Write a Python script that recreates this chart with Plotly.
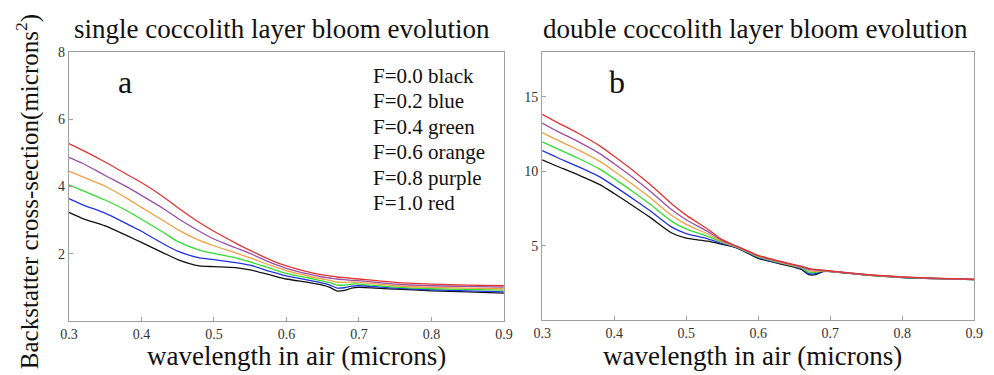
import plotly.graph_objects as go

# ---- data ----
wl_a = [0.30, 0.32, 0.35, 0.38, 0.40, 0.43, 0.45, 0.48, 0.50, 0.53, 0.55, 0.58,
        0.60, 0.63, 0.65, 0.66, 0.67, 0.68, 0.69, 0.70, 0.75, 0.80, 0.85, 0.90]
a_black = [3.23, 3.04, 2.83, 2.54, 2.34, 2.03, 1.83, 1.64, 1.62, 1.59, 1.52, 1.36,
           1.25, 1.15, 1.07, 1.00, 0.89, 0.91, 0.98, 1.00, 0.95, 0.90, 0.87, 0.83]
a_blue = [3.64, 3.45, 3.21, 2.89, 2.67, 2.30, 2.08, 1.88, 1.83, 1.74, 1.66, 1.46,
          1.34, 1.22, 1.13, 1.07, 0.98, 0.99, 1.04, 1.05, 0.98, 0.93, 0.90, 0.87]
a_green = [4.05, 3.87, 3.60, 3.28, 3.03, 2.64, 2.37, 2.11, 2.01, 1.88, 1.76, 1.55,
           1.42, 1.28, 1.19, 1.14, 1.07, 1.07, 1.10, 1.10, 1.01, 0.96, 0.94, 0.92]
a_orange = [4.46, 4.28, 4.01, 3.65, 3.38, 2.99, 2.72, 2.40, 2.24, 2.03, 1.88, 1.64,
            1.50, 1.34, 1.25, 1.21, 1.16, 1.15, 1.16, 1.15, 1.05, 1.00, 0.98, 0.96]
a_purple = [4.87, 4.68, 4.33, 3.99, 3.74, 3.35, 3.06, 2.67, 2.44, 2.18, 2.01, 1.72,
            1.57, 1.40, 1.31, 1.28, 1.25, 1.23, 1.21, 1.20, 1.10, 1.05, 1.03, 1.01]
a_red = [5.28, 5.07, 4.73, 4.36, 4.12, 3.70, 3.38, 2.93, 2.67, 2.32, 2.10, 1.80,
         1.64, 1.46, 1.37, 1.34, 1.31, 1.29, 1.27, 1.25, 1.15, 1.10, 1.07, 1.05]

wl_b = [0.30, 0.32, 0.35, 0.38, 0.40, 0.43, 0.45, 0.48, 0.50, 0.53, 0.55, 0.57,
        0.60, 0.63, 0.65, 0.66, 0.67, 0.68, 0.69, 0.70, 0.75, 0.80, 0.85, 0.90]
b_black = [10.76, 10.35, 9.75, 9.10, 8.50, 7.55, 6.90, 5.85, 5.50, 5.30, 5.08, 4.85,
           4.15, 3.78, 3.55, 3.40, 3.05, 3.05, 3.25, 3.26, 3.02, 2.86, 2.78, 2.72]
b_blue = [11.38, 10.94, 10.31, 9.62, 9.00, 8.02, 7.34, 6.24, 5.81, 5.46, 5.14, 4.87,
          4.20, 3.82, 3.60, 3.45, 3.12, 3.12, 3.28, 3.27, 3.03, 2.87, 2.78, 2.72]
b_green = [11.98, 11.53, 10.87, 10.14, 9.50, 8.49, 7.78, 6.63, 6.12, 5.62, 5.21, 4.90,
           4.25, 3.85, 3.63, 3.50, 3.22, 3.20, 3.30, 3.28, 3.03, 2.87, 2.78, 2.72]
b_orange = [12.60, 12.12, 11.43, 10.66, 10.00, 8.96, 8.22, 7.02, 6.43, 5.78, 5.27, 4.92,
            4.28, 3.88, 3.66, 3.55, 3.32, 3.28, 3.31, 3.28, 3.04, 2.88, 2.79, 2.73]
b_purple = [13.24, 12.71, 11.99, 11.18, 10.50, 9.43, 8.66, 7.41, 6.74, 5.94, 5.34, 4.95,
            4.32, 3.92, 3.70, 3.58, 3.40, 3.35, 3.33, 3.29, 3.05, 2.89, 2.79, 2.73]
b_red = [13.82, 13.30, 12.55, 11.70, 11.00, 9.90, 9.10, 7.80, 7.05, 6.10, 5.40, 4.97,
         4.35, 3.95, 3.72, 3.62, 3.47, 3.40, 3.35, 3.30, 3.06, 2.90, 2.80, 2.74]

x_ticks = [0.3, 0.4, 0.5, 0.6, 0.7, 0.8, 0.9]
ya_ticks = [2, 4, 6, 8]
yb_ticks = [5, 10, 15]
legend_lines = ["F=0.0 black", "F=0.2 blue", "F=0.4 green",
                "F=0.6 orange", "F=0.8 purple", "F=1.0 red"]
titles = ["single coccolith layer bloom evolution", "double coccolith layer bloom evolution"]

colors = ["#111111", "#2233dd", "#33dd33", "#f0a040", "#9a4fa6", "#e03535"]

W, H = 994, 375
SERIF = "Liberation Serif, Times New Roman, serif"

fig = go.Figure()
series_a = [a_black, a_blue, a_green, a_orange, a_purple, a_red]
series_b = [b_black, b_blue, b_green, b_orange, b_purple, b_red]
for ys, c in zip(series_a, colors):
    fig.add_trace(go.Scatter(x=wl_a, y=ys, mode="lines", xaxis="x", yaxis="y",
                             line=dict(color=c, width=1.3, shape="spline", smoothing=0.7),
                             showlegend=False, hoverinfo="skip"))
for ys, c in zip(series_b, colors):
    fig.add_trace(go.Scatter(x=wl_b, y=ys, mode="lines", xaxis="x2", yaxis="y2",
                             line=dict(color=c, width=1.3, shape="spline", smoothing=0.7),
                             showlegend=False, hoverinfo="skip"))

def px(x):
    return x / W

def py(y):
    return 1 - y / H

axis_common = dict(showgrid=False, zeroline=False, showline=True, linecolor="#a0a0a0",
                   linewidth=1.2, mirror=True, ticks="inside", ticklen=4,
                   tickcolor="#a0a0a0", tickfont=dict(family=SERIF, size=14, color="#333333"))

fig.update_layout(
    width=W, height=H, margin=dict(l=0, r=0, t=0, b=0),
    paper_bgcolor="white", plot_bgcolor="white",
    xaxis=dict(domain=[px(61), px(504)], range=[0.3, 0.9], tickvals=x_ticks,
               ticktext=[f"{v:.1f}" for v in x_ticks], anchor="y", **axis_common),
    yaxis=dict(domain=[py(320), py(46)], range=[0, 8], tickvals=ya_ticks,
               ticktext=[str(v) for v in ya_ticks], anchor="x", **axis_common),
    xaxis2=dict(domain=[px(543), px(983)], range=[0.3, 0.9], tickvals=x_ticks,
                ticktext=[f"{v:.1f}" for v in x_ticks], anchor="y2", **axis_common),
    yaxis2=dict(domain=[py(319), py(46)], range=[0, 18], tickvals=yb_ticks,
                ticktext=[str(v) for v in yb_ticks], anchor="x2", **axis_common),
)

ann = []
# panel titles
ann.append(dict(text=titles[0], x=px(278), y=py(22), xref="paper", yref="paper",
                showarrow=False, xanchor="center", yanchor="middle",
                font=dict(family=SERIF, size=27, color="#111111")))
ann.append(dict(text=titles[1], x=px(760), y=py(22), xref="paper", yref="paper",
                showarrow=False, xanchor="center", yanchor="middle",
                font=dict(family=SERIF, size=27, color="#111111")))
# x axis titles
for cx in (293, 757):
    ann.append(dict(text="wavelength in air (microns)", x=px(cx), y=py(356), xref="paper",
                    yref="paper", showarrow=False, xanchor="center", yanchor="middle",
                    font=dict(family=SERIF, size=27, color="#111111")))
# y axis title
ann.append(dict(text="Backstatter cross-section(microns<sup>2</sup>)", x=px(19), y=py(188),
                xref="paper", yref="paper", showarrow=False, textangle=-90,
                xanchor="center", yanchor="middle",
                font=dict(family=SERIF, size=25, color="#111111")))
# panel letters
ann.append(dict(text="a", x=px(118), y=py(76), xref="paper", yref="paper", showarrow=False,
                xanchor="center", yanchor="middle", font=dict(family=SERIF, size=32, color="#111111")))
ann.append(dict(text="b", x=px(619), y=py(76), xref="paper", yref="paper", showarrow=False,
                xanchor="center", yanchor="middle", font=dict(family=SERIF, size=32, color="#111111")))
# legend text lines
for i, t in enumerate(legend_lines):
    ann.append(dict(text=t, x=px(369), y=py(70 + i * 26), xref="paper", yref="paper",
                    showarrow=False, xanchor="left", yanchor="middle",
                    font=dict(family=SERIF, size=21, color="#111111")))
fig.update_layout(annotations=ann)

fig.write_html("out.html")
